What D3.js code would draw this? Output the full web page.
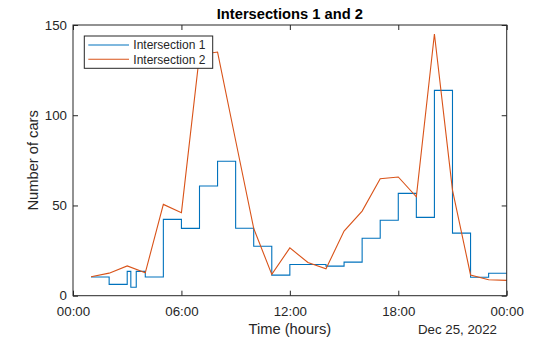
<!DOCTYPE html>
<html>
<head>
<meta charset="utf-8">
<script src="https://cdn.jsdelivr.net/npm/d3@7"></script>
<style>
  html, body { margin: 0; padding: 0; background: #fff; }
  svg { display: block; font-family: "Liberation Sans", Arial, Helvetica, sans-serif; }
</style>
</head>
<body>
<svg id="chart" width="560" height="337"></svg>
<script>
// ---- data ----
const seriesNames = ["Intersection 1", "Intersection 2"];
// Intersection 1 (stairs) : hours after midnight, Dec 25 2022
const hours1 = [1, 2, 3, 3.2, 3.5, 4, 5, 6, 7, 8, 9, 10, 11, 12, 13, 14, 15, 16, 17, 18, 19, 20, 21, 22, 23, 24];
const cars1  = [10.4, 6.3, 13.5, 4.7, 13.5, 10.4, 42.3, 37.3, 60.8, 74.5, 37.4, 27.4, 11.4, 17.3, 17.3, 16.4, 18.6, 31.8, 41.8, 56.7, 43.4, 113.8, 34.7, 10.2, 12.4, 12.4];
// Intersection 2 (line)
const hours2 = [1, 2, 3, 4, 5, 6, 7, 8, 9, 10, 11, 12, 13, 14, 15, 16, 17, 18, 19, 20, 21, 22, 23, 24];
const cars2  = [10.5, 12.5, 16.5, 12.7, 50.6, 46, 133.5, 135, 86, 37.3, 11.8, 26.5, 18.4, 14.9, 35.8, 46.9, 64.8, 65.8, 54.8, 145, 58.5, 11.5, 8.8, 8.5];
const yTicks = [0, 50, 100, 150];
const titleText = "Intersections 1 and 2";
const xLabel = "Time (hours)";
const yLabel = "Number of cars";
const dateLabel = "Dec 25, 2022";

// ---- setup ----
const svg = d3.select("#chart");
const W = 560, H = 337;
const L = 73, R = 506.7, T = 25, B = 295.7;
const ink = "#262626";
const colors = ["#0072BD", "#D95319"];
const base = new Date(2022, 11, 25, 0, 0, 0);
const toDate = h => new Date(base.getTime() + h * 3600 * 1000);

const x = d3.scaleTime().domain([base, toDate(24)]).range([L, R]);
const y = d3.scaleLinear().domain([0, 150]).range([B, T]);

const data1 = hours1.map((h, i) => ({ t: toDate(h), v: cars1[i] }));
const data2 = hours2.map((h, i) => ({ t: toDate(h), v: cars2[i] }));

// lines
const stair = d3.line().x(d => x(d.t)).y(d => y(d.v)).curve(d3.curveStepAfter);
const poly = d3.line().x(d => x(d.t)).y(d => y(d.v));

svg.append("path").datum(data1).attr("d", stair)
  .attr("fill", "none").attr("stroke", colors[0]).attr("stroke-width", 1.1);
svg.append("path").datum(data2).attr("d", poly)
  .attr("fill", "none").attr("stroke", colors[1]).attr("stroke-width", 1.1);

// axes
const fmt = d3.timeFormat("%H:%M");
const xTickVals = d3.timeHour.every(6).range(base, toDate(24.01));
const gx = svg.append("g").attr("transform", `translate(0,${B})`)
  .call(d3.axisBottom(x).tickValues(xTickVals).tickFormat(fmt).tickSizeInner(-5).tickSizeOuter(0).tickPadding(11));
const gxt = svg.append("g").attr("transform", `translate(0,${T})`)
  .call(d3.axisTop(x).tickValues(xTickVals).tickFormat("").tickSizeInner(-5).tickSizeOuter(0));
const gy = svg.append("g").attr("transform", `translate(${L},0)`)
  .call(d3.axisLeft(y).tickValues(yTicks).tickSizeInner(-5).tickSizeOuter(0).tickPadding(6));
const gyr = svg.append("g").attr("transform", `translate(${R},0)`)
  .call(d3.axisRight(y).tickValues(yTicks).tickFormat("").tickSizeInner(-5).tickSizeOuter(0));

[gx, gxt, gy, gyr].forEach(g => {
  g.select(".domain").remove();
  g.selectAll("line").attr("stroke", ink).attr("stroke-width", 1);
  g.selectAll("text").attr("fill", ink).attr("font-size", "13.3px")
    .attr("font-family", "'Liberation Sans', Arial, sans-serif");
});

// box
svg.append("rect").attr("x", L).attr("y", T).attr("width", R - L).attr("height", B - T)
  .attr("fill", "none").attr("stroke", ink).attr("stroke-width", 1);

// labels
svg.append("text").attr("x", (L + R) / 2).attr("y", 19).attr("text-anchor", "middle")
  .attr("font-weight", "bold").attr("font-size", "14.7px").attr("fill", "#000").text(titleText);
svg.append("text").attr("x", (L + R) / 2).attr("y", 333.5).attr("text-anchor", "middle")
  .attr("font-size", "14.7px").attr("fill", ink).text(xLabel);
svg.append("text").attr("transform", `translate(37.5,${(T + B) / 2}) rotate(-90)`)
  .attr("text-anchor", "middle").attr("font-size", "14.7px").attr("fill", ink).text(yLabel);
svg.append("text").attr("x", 497).attr("y", 333.5).attr("text-anchor", "end")
  .attr("font-size", "13.3px").attr("fill", ink).text(dateLabel);

// legend
const lg = svg.append("g");
lg.append("rect").attr("x", 84.3).attr("y", 36).attr("width", 128.4).attr("height", 32.3)
  .attr("fill", "#fff").attr("stroke", ink).attr("stroke-width", 1);
seriesNames.forEach((name, i) => {
  const yy = 45 + i * 14.3;
  lg.append("line").attr("x1", 88.3).attr("x2", 129).attr("y1", yy).attr("y2", yy)
    .attr("stroke", colors[i]).attr("stroke-width", 1.1);
  lg.append("text").attr("x", 133.3).attr("y", yy).attr("dy", "0.35em")
    .attr("font-size", "12px").attr("fill", ink).text(name);
});
</script>
</body>
</html>
